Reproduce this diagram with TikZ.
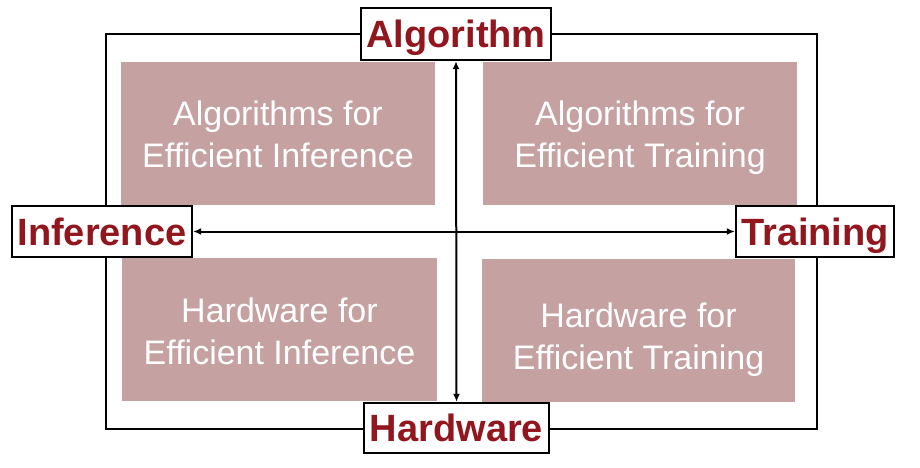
\documentclass[tikz,border=0pt]{standalone}
\usepackage{fontspec}
\setmainfont{Liberation Sans}
\usetikzlibrary{arrows.meta}
\definecolor{quadfill}{RGB}{197,161,161}
\definecolor{axisred}{RGB}{145,22,30}
\tikzset{
  quad/.style={fill=quadfill, draw=none, inner sep=0pt},
  quadtext/.style={text=white, align=center,
    font=\fontsize{34}{42}\selectfont, inner sep=0pt},
  axislabel/.style={draw=black, line width=2.4pt, fill=white, text=axisred,
    font=\fontsize{38}{40}\bfseries\selectfont, inner sep=0pt,
    text height=27pt, text depth=0pt},
  axisline/.style={line width=2pt, {Latex[length=8pt,width=7pt]}-{Latex[length=8pt,width=7pt]}},
}
\newcommand{\qline}[1]{#1\strut}
\begin{document}
\begin{tikzpicture}[x=1pt,y=-1pt]
\useasboundingbox (0,0) rectangle (920,468);
% outer frame
\draw[line width=2pt] (106,34) rectangle (817,429);

% quadrant boxes
\node[quad, minimum width=314pt, minimum height=143pt] (ai) at (278,133.5) {};
\node[quad, minimum width=314pt, minimum height=143pt] (at) at (640,133.5) {};
\node[quad, minimum width=315pt, minimum height=143pt] (hi) at (279.5,329.5) {};
\node[quad, minimum width=313pt, minimum height=143pt] (ht) at (638.5,330.5) {};

% quadrant captions
\node[quadtext] (aitext) at ([yshift=-5pt]ai.center) {\qline{Algorithms for}\\\qline{Efficient Inference}};
\node[quadtext] (attext) at ([yshift=-5pt]at.center) {\qline{Algorithms for}\\\qline{Efficient Training}};
\node[quadtext] (hitext) at ([yshift=-5.5pt]hi.center) {\qline{Hardware for}\\\qline{Efficient Inference}};
\node[quadtext] (httext) at ([yshift=-10pt]ht.center) {\qline{Hardware for}\\\qline{Efficient Training}};

% axis labels
\node[axislabel, minimum width=190pt, minimum height=52pt] (alg) at (456,34) {Algorithm};
\node[axislabel, minimum width=185pt, minimum height=50pt] (hw) at (456.5,428) {Hardware};
\node[axislabel, minimum width=180pt, minimum height=51pt] (inf) at (102,231.5) {Inference};
\node[axislabel, minimum width=158pt, minimum height=51pt] (trn) at (815,231.5) {Training};

% axes
\draw[axisline] (alg.south) -- (hw.north);
\draw[axisline] (inf.east) -- (trn.west);
\end{tikzpicture}
\end{document}
